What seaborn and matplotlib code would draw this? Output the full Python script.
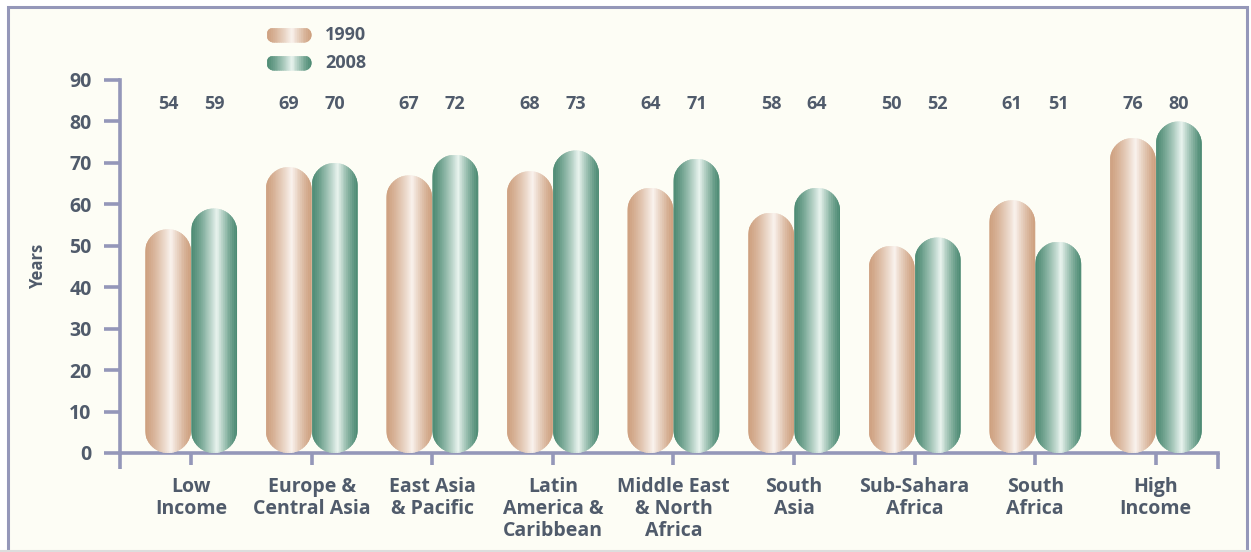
import numpy as np
import pandas as pd
import matplotlib
matplotlib.use("Agg")
import matplotlib.pyplot as plt
import matplotlib.transforms as mtransforms
import seaborn as sns
from matplotlib.patches import Polygon, Rectangle
from matplotlib.collections import PolyCollection
from matplotlib.lines import Line2D

# data
regions = ["Low\nIncome", "Europe &\nCentral Asia", "East Asia\n& Pacific",
           "Latin\nAmerica &\nCaribbean", "Middle East\n& North\nAfrica",
           "South\nAsia", "Sub-Sahara\nAfrica", "South\nAfrica", "High\nIncome"]
years = ["1990", "2008"]
life_1990 = [54, 69, 67, 68, 64, 58, 50, 61, 76]
life_2008 = [59, 70, 72, 73, 71, 64, 52, 51, 80]

W, H = 1251, 552
TXT = "#505b6b"
AXC = "#9497b9"
BG = "#fdfdf5"

# edge colour, highlight colour
shades = {"1990": ((205, 158, 124), (250, 243, 238)),
          "2008": ((72, 136, 112), (233, 244, 239))}

sns.set_theme(style="white")
plt.rcParams["font.family"] = ["Open Sans", "DejaVu Sans"]
plt.rcParams["font.weight"] = "bold"

df = pd.DataFrame({
    "region": regions * 2,
    "years": life_1990 + life_2008,
    "year": [years[0]] * len(regions) + [years[1]] * len(regions),
})

fig = plt.figure(figsize=(W / 100, H / 100), dpi=100, facecolor="white")
px = mtransforms.Affine2D().scale(1 / W, 1 / H) + fig.transFigure

# frame
fig.add_artist(Rectangle((8, 0), 1239, 545, transform=px, facecolor=BG,
                         edgecolor=AXC, lw=2.2, zorder=-5))
fig.add_artist(Line2D([0, W], [1.5, 1.5], transform=px, color="#dddddd", lw=1.5))

ax = fig.add_axes([120 / W, (H - 453) / H, (1218 - 120) / W, (453 - 80) / H])
ax.set_facecolor("none")

sns.barplot(data=df, x="region", y="years", hue="year", order=regions,
            hue_order=years, width=0.763, ax=ax, legend=False, saturation=1)

XL = (-0.589, 8.516)
ax.set_xlim(*XL)
ax.set_ylim(0, 90)

px_x = (1218 - 120) / (XL[1] - XL[0])
px_y = (453 - 80) / 90


def rounded(x0, y0, w, h, rx, ry, n=24):
    t = np.linspace(0, np.pi / 2, n)
    pts = []
    for cx, cy, a0 in [(x0 + w - rx, y0 + h - ry, 0), (x0 + rx, y0 + h - ry, np.pi / 2),
                       (x0 + rx, y0 + ry, np.pi), (x0 + w - rx, y0 + ry, 1.5 * np.pi)]:
        a = a0 + t
        pts += list(zip(cx + rx * np.cos(a), cy + ry * np.sin(a)))
    return np.array(pts)


def profile(n=70):
    t = (np.arange(n) + 0.5) / n
    peak = 0.56
    v = np.where(t < peak, t / peak, (1 - t) / (1 - peak))
    return t, np.clip(v, 0, 1) ** 1.3


def pill(target, trans, x0, y0, w, h, rx, ry, key):
    outline = Polygon(rounded(x0, y0, w, h, rx, ry), closed=True, transform=trans,
                      facecolor="none", edgecolor="none")
    edge, hi = (np.array(c) / 255 for c in shades[key])
    t, s = profile()
    n = len(t)
    strips = [[(x0 + w * i / n, y0), (x0 + w * (i + 1) / n, y0),
               (x0 + w * (i + 1) / n, y0 + h), (x0 + w * i / n, y0 + h)] for i in range(n)]
    cols = [edge + (hi - edge) * v for v in s]
    pc = PolyCollection(strips, facecolors=cols, edgecolors=cols, linewidths=0.4,
                        transform=trans, zorder=3)
    if target is fig:
        fig.add_artist(outline)
        fig.add_artist(pc)
    else:
        target.add_patch(outline)
        target.add_collection(pc, autolim=False)
    pc.set_clip_path(outline)


for key, cont in zip(years, ax.containers):
    for bar in cont:
        bar.set_visible(False)
        x0, w, h = bar.get_x(), bar.get_width(), bar.get_height()
        rx = w / 2
        ry = rx * px_x / px_y
        pill(ax, ax.transData, x0, 0, w, h, rx, ry, key)
        ax.text(x0 + w / 2, 84.2, f"{h:.0f}", ha="center", va="center",
                fontsize=13, fontweight="bold", color=TXT)

ax.set_xlim(*XL)
ax.set_ylim(0, 90)

# legend
for i, key in enumerate(years):
    yc = H - (35 + 28 * i)
    pill(fig, px, 266.5, yc - 7.5, 45, 15, 7.5, 7.5, key)
    fig.text(325 / W, yc / H, key, ha="left", va="center", fontsize=13,
             fontweight="bold", color=TXT)

# axes styling
for side in ["top", "right"]:
    ax.spines[side].set_visible(False)
for side in ["left", "bottom"]:
    ax.spines[side].set_color(AXC)
    ax.spines[side].set_linewidth(2.6)
ax.set_yticks(range(0, 91, 10))
ax.tick_params(axis="y", length=11.5, width=2.6, color=AXC, pad=9,
               labelsize=14, labelcolor=TXT, left=True)
ax.tick_params(axis="x", length=8.5, width=2.6, color=AXC, pad=9,
               labelsize=14, labelcolor=TXT, bottom=True)
for lab in ax.get_xticklabels() + ax.get_yticklabels():
    lab.set_fontweight("bold")
for lab in ax.get_xticklabels():
    lab.set_linespacing(1.12)
    lab.set_va("top")

# axis ends reach below the baseline
for xe in [0, 1]:
    ax.plot([xe, xe], [0, -16 / 373], transform=ax.transAxes, color=AXC,
            lw=2.6, clip_on=False, solid_capstyle="butt")

ax.set_xlabel("")
ax.set_ylabel("Years", fontsize=12, fontweight="bold", color=TXT, labelpad=16)

fig.savefig("out.png", dpi=100, facecolor="white")
